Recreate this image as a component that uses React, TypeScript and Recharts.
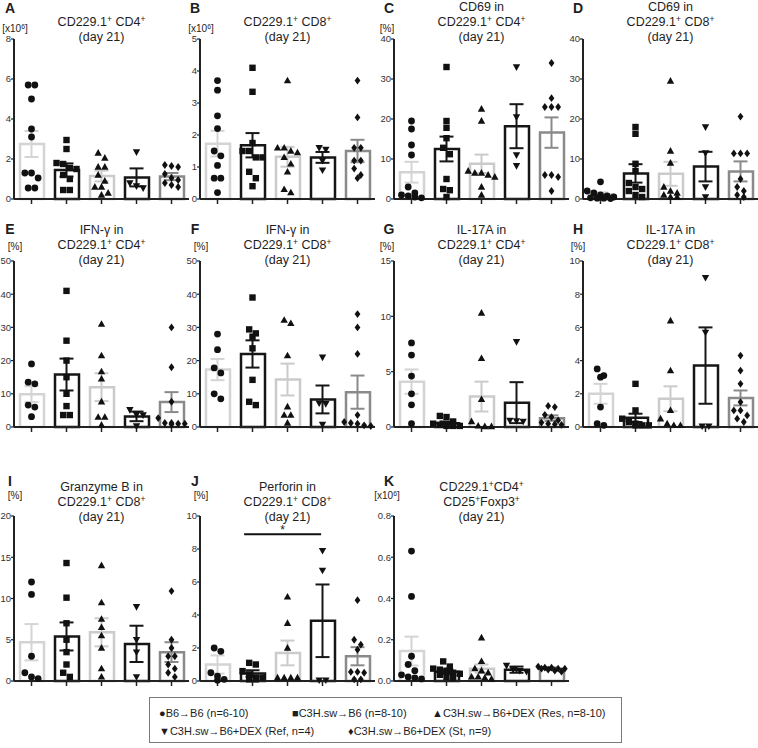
import React from 'react';
import { ComposedChart, Bar, Cell, Scatter, ErrorBar, XAxis, YAxis, ReferenceLine } from 'recharts';

// ---------- groups ----------
const GROUP_LABELS = [
  'B6→B6 (n=6-10)',
  'C3H.sw→B6 (n=8-10)',
  'C3H.sw→B6+DEX (Res, n=8-10)',
  'C3H.sw→B6+DEX (Ref, n=4)',
  'C3H.sw→B6+DEX (St, n=9)',
];
const GROUP_KEYS = ['g1', 'g2', 'g3', 'g4', 'g5'];
const GROUP_SYMBOLS = ['●', '■', '▲', '▼', '♦'];
const GROUP_COLORS = ['#d4d4d4', '#161616', '#cbcbcb', '#161616', '#8a8a8a'];

// ---------- A: CD229.1+ CD4+ ----------
const aTicks = [0, 2, 4, 6, 8];
const aMean = [2.75, 1.45, 1.15, 1.08, 1.12];
const aSem = [0.65, 0.33, 0.27, 0.45, 0.18];
const aPts = [
  [5.7, 5.7, 5.0, 3.5, 3.1, 1.3, 1.3, 1.05, 0.55, 0.55],
  [2.95, 2.5, 1.8, 1.75, 1.55, 1.5, 1.2, 1.0, 0.45, 0.45],
  [2.3, 2.05, 1.6, 1.6, 1.2, 0.9, 0.6, 0.6, 0.3, 0.2],
  [2.35, 0.8, 0.65, 0.55],
  [1.7, 1.65, 1.6, 1.25, 1.05, 0.95, 0.8, 0.7, 0.6],
];

// ---------- B: CD229.1+ CD8+ ----------
const bTicks = [0, 1, 2, 3, 4, 5];
const bMean = [1.73, 1.68, 1.32, 1.3, 1.5];
const bSem = [0.4, 0.38, 0.31, 0.17, 0.35];
const bPts = [
  [3.7, 3.4, 2.6, 2.2, 1.5, 1.35, 1.05, 0.65, 0.65, 0.2],
  [4.1, 3.35, 1.75, 1.5, 1.5, 1.3, 1.3, 0.85, 0.65, 0.4],
  [3.7, 1.6, 1.6, 1.5, 1.45, 1.3, 1.1, 0.85, 0.3, 0.2],
  [1.6, 1.55, 1.2, 0.9],
  [3.7, 2.55, 1.6, 1.6, 1.2, 1.2, 0.95, 0.75, 0.65],
];

// ---------- C: CD69 in CD229.1+ CD4+ ----------
const cTicks = [0, 10, 20, 30, 40];
const cMean = [6.7, 12.5, 8.8, 18.2, 16.6];
const cSem = [2.6, 3.1, 2.3, 5.5, 3.8];
const cPts = [
  [19.5, 17.5, 13.5, 11, 3, 1.5, 1, 0.8, 0.5, 0.3],
  [33, 19.5, 17.8, 15.2, 12.8, 11.2, 5, 2.5, 2.2, 0.5],
  [22.5, 19.5, 7, 6.5, 6.5, 6, 5.5, 3, 1],
  [33, 20.5, 11, 8.3],
  [34, 25.2, 23, 23, 23, 6, 6, 5.5, 2],
];

// ---------- D: CD69 in CD229.1+ CD8+ ----------
const dTicks = [0, 10, 20, 30, 40];
const dMean = [1.2, 6.4, 6.3, 8.1, 6.9];
const dSem = [0.45, 2.3, 3.0, 3.7, 2.5];
const dPts = [
  [4.3, 2, 1.5, 1, 0.8, 0.5, 0.3, 0.2, 0.2, 0.1],
  [18, 16.3, 8.8, 7, 4, 3, 2.5, 2, 1, 0.5],
  [29.5, 12, 9, 3, 2, 1.5, 1, 0.5, 0.5],
  [18, 11.5, 3, 0.5],
  [20.6, 11.4, 11.4, 11.4, 5, 3, 2, 1, 0.5],
];

// ---------- E: IFN-γ in CD229.1+ CD4+ ----------
const eTicks = [0, 10, 20, 30, 40, 50];
const eMean = [9.9, 15.8, 12.0, 3.2, 7.5];
const eSem = [2.4, 4.8, 4.2, 1.45, 3.0];
const ePts = [
  [19, 13.5, 13, 6.6, 6.0, 3.1],
  [41, 26, 20, 15, 10, 6.3, 3.6, 3.6],
  [31, 21.5, 16.7, 14.5, 7.6, 3, 3, 0.6],
  [5.2, 3.7, 3.6, 0.3],
  [30, 18, 7.6, 2.7, 1.2, 1.2, 1.0, 1.0, 0.8],
];

// ---------- F: IFN-γ in CD229.1+ CD8+ ----------
const fTicks = [0, 10, 20, 30, 40, 50];
const fMean = [17.3, 22.0, 14.3, 8.3, 10.5];
const fSem = [3.2, 4.1, 4.8, 4.2, 5.0];
const fPts = [
  [28, 23.3, 17.8, 16.3, 10, 8.5],
  [39, 29.4, 28.2, 27.2, 23.7, 14.2, 7.6, 6.6],
  [32.2, 31.2, 21.5, 6.1, 3.6, 3.6, 1.2],
  [21, 7.2, 7.0, 0.8],
  [34, 30, 22, 3.6, 1.5, 1.2, 1.0, 0.5, 0.3],
];

// ---------- G: IL-17A in CD229.1+ CD4+ ----------
const gTicks = [0, 5, 10, 15];
const gMean = [4.1, 0.35, 2.75, 2.2, 0.8];
const gSem = [1.1, 0.15, 1.35, 1.85, 0.25];
const gPts = [
  [7.6, 6.5, 4.6, 3, 2, 0.3],
  [1.0, 0.9, 0.5, 0.3, 0.2, 0.1, 0.1, 0.1],
  [10.3, 6.2, 2.5, 0.5, 0.1, 0.05, 0.05],
  [7.7, 0.6, 0.55, 0.5],
  [1.9, 1.8, 1.1, 0.9, 0.6, 0.4, 0.3, 0.25, 0.2],
];

// ---------- H: IL-17A in CD229.1+ CD8+ ----------
const hTicks = [0, 2, 4, 6, 8, 10];
const hMean = [2.0, 0.55, 1.7, 3.7, 1.75];
const hSem = [0.6, 0.25, 0.75, 2.3, 0.45];
const hPts = [
  [3.5, 3.1, 3.0, 1.2, 0.2, 0.1],
  [2.6, 1.0, 0.5, 0.3, 0.2, 0.1, 0.1, 0.1],
  [6.4, 3.4, 1, 0.5, 0.2, 0.1, 0.1],
  [9.0, 5.7, 0.05, 0.05],
  [4.3, 3.4, 2.6, 1.5, 1, 1, 0.7, 0.5, 0.3],
];

// ---------- I: Granzyme B in CD229.1+ CD8+ ----------
const iTicks = [0, 5, 10, 15, 20];
const iMean = [4.7, 5.4, 5.9, 4.5, 3.5];
const iSem = [2.2, 1.7, 1.7, 2.2, 1.2];
const iPts = [
  [12, 10.5, 3, 1, 0.5, 0.3],
  [14.3, 10.1, 7, 5, 3.5, 2, 1, 0.5],
  [14, 9.5, 7.5, 6.5, 5.5, 4, 1.5, 0.5],
  [9, 5, 3.5, 0.5],
  [10.9, 5, 4, 3, 3, 2, 1.5, 1, 0.5],
];

// ---------- J: Perforin in CD229.1+ CD8+ ----------
const jTicks = [0, 2, 4, 6, 8, 10];
const jMean = [1.0, 0.45, 1.7, 3.65, 1.5];
const jSem = [0.55, 0.2, 0.75, 2.2, 0.55];
const jPts = [
  [2.0, 1.8, 0.5, 0.3, 0.1, 0.05],
  [1.1, 1.0, 0.6, 0.4, 0.2, 0.2, 0.1, 0.1],
  [5.1, 3.5, 2.0, 0.2, 0.2, 0.2, 0.2],
  [7.9, 6.7, 0.05, 0.05],
  [4.9, 2.5, 2.2, 1.9, 0.55, 0.55, 0.5, 0.1, 0.1],
];
const jSig = { from: 1.26, to: 3.46, y: 8.9, label: '*' };

// ---------- K: CD229.1+CD4+ CD25+Foxp3+ ----------
const kTicks = [0, 0.2, 0.4, 0.6, 0.8];
const kMean = [0.145, 0.045, 0.06, 0.055, 0.06];
const kSem = [0.07, 0.01, 0.02, 0.015, 0.006];
const kPts = [
  [0.63, 0.41, 0.12, 0.08, 0.05, 0.03, 0.02, 0.015, 0.01],
  [0.095, 0.07, 0.06, 0.055, 0.05, 0.04, 0.035, 0.03, 0.02, 0.015],
  [0.21, 0.095, 0.06, 0.05, 0.04, 0.02, 0.02, 0.015, 0.01],
  [0.075, 0.055, 0.05, 0.045],
  [0.07, 0.065, 0.065, 0.06, 0.06, 0.06, 0.055, 0.05, 0.045],
];

// ---------- layout ----------
const COL_X = [14, 200, 394, 583];
const ROW_TOP = [39, 261, 516];
const ROW_H = [160, 166, 165];
const PLOT_W = 175;
const TITLE_LAST_Y = [37, 259.5, 517];
const LETTER_Y = [7.5, 228.5, 481];
const LETTER_X = [10, 195, 389, 578];
const UNIT_Y = [28.5, 247, 496];
const UNIT_X = [15, 201, 387, 578];
const FONT = "'Liberation Sans', Arial, Helvetica, sans-serif";

type PanelDef = {
  letter: string;
  col: number;
  row: number;
  title: string[];
  unit?: string;
  ticks: number[];
  mean: number[];
  sem: number[];
  pts: number[][];
  fmt?: (v: number) => string;
  sig?: { from: number; to: number; y: number; label: string };
};

const panels: PanelDef[] = [
  { letter: 'A', col: 0, row: 0, title: ['CD229.1^+ CD4^+', '(day 21)'], unit: '[x10^6]', ticks: aTicks, mean: aMean, sem: aSem, pts: aPts },
  { letter: 'B', col: 1, row: 0, title: ['CD229.1^+ CD8^+', '(day 21)'], unit: '[x10^6]', ticks: bTicks, mean: bMean, sem: bSem, pts: bPts },
  { letter: 'C', col: 2, row: 0, title: ['CD69 in', 'CD229.1^+ CD4^+', '(day 21)'], unit: '[%]', ticks: cTicks, mean: cMean, sem: cSem, pts: cPts },
  { letter: 'D', col: 3, row: 0, title: ['CD69 in', 'CD229.1^+ CD8^+', '(day 21)'], ticks: dTicks, mean: dMean, sem: dSem, pts: dPts },
  { letter: 'E', col: 0, row: 1, title: ['IFN-γ in', 'CD229.1^+ CD4^+', '(day 21)'], unit: '[%]', ticks: eTicks, mean: eMean, sem: eSem, pts: ePts },
  { letter: 'F', col: 1, row: 1, title: ['IFN-γ in', 'CD229.1^+ CD8^+', '(day 21)'], unit: '[%]', ticks: fTicks, mean: fMean, sem: fSem, pts: fPts },
  { letter: 'G', col: 2, row: 1, title: ['IL-17A in', 'CD229.1^+ CD4^+', '(day 21)'], unit: '[%]', ticks: gTicks, mean: gMean, sem: gSem, pts: gPts },
  { letter: 'H', col: 3, row: 1, title: ['IL-17A in', 'CD229.1^+ CD8^+', '(day 21)'], unit: '[%]', ticks: hTicks, mean: hMean, sem: hSem, pts: hPts },
  { letter: 'I', col: 0, row: 2, title: ['Granzyme B in', 'CD229.1^+ CD8^+', '(day 21)'], unit: '[%]', ticks: iTicks, mean: iMean, sem: iSem, pts: iPts },
  { letter: 'J', col: 1, row: 2, title: ['Perforin in', 'CD229.1^+ CD8^+', '(day 21)'], unit: '[%]', ticks: jTicks, mean: jMean, sem: jSem, pts: jPts, sig: jSig },
  { letter: 'K', col: 2, row: 2, title: ['CD229.1^+CD4^+', 'CD25^+Foxp3^+', '(day 21)'], unit: '[x10^6]', ticks: kTicks, mean: kMean, sem: kSem, pts: kPts, fmt: (v: number) => v.toFixed(1) },
];

// ---------- helpers ----------
function Rich({ text }: { text: string }) {
  const parts = text.split(/\^(\+|6)/);
  return (
    <>
      {parts.map((s, i) =>
        i % 2 === 1 ? (
          <span key={i} style={{ fontSize: '0.68em', verticalAlign: '0.5em', lineHeight: 0 }}>{s}</span>
        ) : (
          <React.Fragment key={i}>{s}</React.Fragment>
        )
      )}
    </>
  );
}

function Txt({ x, y, size, bold, anchor = 'middle', children }: any) {
  return (
    <div
      style={{
        position: 'absolute',
        left: x,
        top: y,
        transform: anchor === 'middle' ? 'translate(-50%, -50%)' : 'translate(0, -50%)',
        fontSize: size,
        fontWeight: bold ? 700 : 400,
        whiteSpace: 'nowrap',
        lineHeight: 1,
        color: '#1e1e1e',
      }}
    >
      {children}
    </div>
  );
}

// symmetric column-scatter layout: points of similar value spread sideways around the group centre
function swarm(values: number[], max: number, gi: number) {
  const thr = max * 0.042;
  const step = 0.19;
  const sorted = [...values].sort((a, b) => b - a);
  const out: { x: number; y: number; g: number }[] = [];
  let i = 0;
  while (i < sorted.length) {
    let j = i + 1;
    while (j < sorted.length && j - i < 5 && sorted[i] - sorted[j] < thr) j++;
    const n = j - i;
    for (let m = 0; m < n; m++) {
      out.push({ x: gi + 0.5 + (m - (n - 1) / 2) * step, y: sorted[i + m], g: gi });
    }
    i = j;
  }
  return out;
}

function Marker(props: any) {
  const { cx, cy, payload } = props;
  if (cx == null || cy == null) return <g />;
  const c = '#111';
  switch (payload.g) {
    case 0:
      return <circle cx={cx} cy={cy} r={3.4} fill={c} />;
    case 1:
      return <rect x={cx - 3.2} y={cy - 3.2} width={6.4} height={6.4} fill={c} />;
    case 2:
      return <path d={`M${cx},${cy - 3.9}L${cx + 3.7},${cy + 2.7}L${cx - 3.7},${cy + 2.7}Z`} fill={c} />;
    case 3:
      return <path d={`M${cx},${cy + 3.9}L${cx + 3.7},${cy - 2.7}L${cx - 3.7},${cy - 2.7}Z`} fill={c} />;
    default:
      return <path d={`M${cx},${cy - 3.9}L${cx + 2.9},${cy}L${cx},${cy + 3.9}L${cx - 2.9},${cy}Z`} fill={c} />;
  }
}

const Empty = () => <g />;

function Panel({ p }: { p: PanelDef }) {
  const axisX = COL_X[p.col];
  const top = ROW_TOP[p.row];
  const h = ROW_H[p.row];
  const max = p.ticks[p.ticks.length - 1];
  const data = p.mean.map((m, i) => ({ name: GROUP_KEYS[i], x: i + 0.5, mean: m, sem: p.sem[i] }));
  const pts = p.pts.flatMap((vals, gi) => swarm(vals, max, gi));
  const plotCenter = axisX + PLOT_W / 2;
  const n = p.title.length;
  return (
    <>
      <Txt x={LETTER_X[p.col]} y={LETTER_Y[p.row]} size={14} bold>
        {p.letter}
      </Txt>
      {p.unit && (
        <Txt x={UNIT_X[p.col]} y={UNIT_Y[p.row]} size={10}>
          <Rich text={p.unit} />
        </Txt>
      )}
      {p.title.map((line, i) => (
        <Txt key={i} x={plotCenter} y={TITLE_LAST_Y[p.row] - (n - 1 - i) * 15} size={12.5}>
          <Rich text={line} />
        </Txt>
      ))}
      <div style={{ position: 'absolute', left: axisX - 40, top: top - 10 }}>
        <ComposedChart
          width={40 + PLOT_W + 5}
          height={h + 22}
          data={data}
          margin={{ top: 10, right: 5, bottom: 0, left: 0 }}
          barCategoryGap={0}
        >
          <XAxis
            xAxisId="cat"
            dataKey="name"
            type="category"
            interval={0}
            tickFormatter={() => ''}
            axisLine={{ stroke: '#222', strokeWidth: 2 }}
            tickLine={{ stroke: '#222', strokeWidth: 1.5 }}
            tickSize={5}
            height={12}
          />
          <XAxis xAxisId="num" dataKey="x" type="number" domain={[0, 5]} hide />
          <YAxis
            type="number"
            domain={[0, max]}
            ticks={p.ticks}
            interval={0}
            width={40}
            axisLine={{ stroke: '#222', strokeWidth: 2 }}
            tickLine={{ stroke: '#222', strokeWidth: 1.2 }}
            tickSize={3}
            tickMargin={0}
            tick={{ fontSize: 9.5, fill: '#333', fontFamily: FONT }}
            tickFormatter={p.fmt ? p.fmt : (v: number) => String(v)}
          />
          <Bar xAxisId="cat" dataKey="mean" barSize={24} fill="#ffffff" strokeWidth={2.5} isAnimationActive={false}>
            {data.map((d, i) => (
              <Cell key={i} stroke={GROUP_COLORS[i]} fill="#ffffff" />
            ))}
          </Bar>
          <Scatter xAxisId="num" data={pts} dataKey="y" shape={Marker} isAnimationActive={false} />
          {data.map((d, i) => (
            <Scatter key={'err' + i} xAxisId="num" data={[d]} dataKey="mean" shape={Empty} isAnimationActive={false}>
              <ErrorBar dataKey="sem" direction="y" width={7} stroke={GROUP_COLORS[i]} strokeWidth={2} />
            </Scatter>
          ))}
          {p.sig && (
            <ReferenceLine
              xAxisId="num"
              segment={[
                { x: p.sig.from, y: p.sig.y },
                { x: p.sig.to, y: p.sig.y },
              ]}
              stroke="#111"
              strokeWidth={2}
              label={{ value: p.sig.label, position: 'top', offset: 0, fontSize: 12, fill: '#222' }}
            />
          )}
        </ComposedChart>
      </div>
    </>
  );
}

const LEGEND_ROWS = [
  { y: 713, items: [{ g: 0, x: 159 }, { g: 1, x: 292 }, { g: 2, x: 432 }] },
  { y: 731, items: [{ g: 3, x: 159 }, { g: 4, x: 348 }] },
];

function LegendBox() {
  return (
    <>
      <div
        style={{
          position: 'absolute',
          left: 149,
          top: 697,
          width: 473,
          height: 46,
          border: '1px solid #7a7a7a',
          boxSizing: 'border-box',
        }}
      />
      {LEGEND_ROWS.map((r, ri) =>
        r.items.map((it) => (
          <Txt key={ri + '-' + it.g} x={it.x} y={r.y} size={11} anchor="start">
            {GROUP_SYMBOLS[it.g]}
            {GROUP_LABELS[it.g]}
          </Txt>
        ))
      )}
    </>
  );
}

export default function App() {
  return (
    <div
      style={{
        position: 'absolute',
        left: 0,
        top: 0,
        width: 758,
        height: 748,
        background: '#ffffff',
        fontFamily: FONT,
        overflow: 'hidden',
      }}
    >
      {panels.map((p) => (
        <Panel key={p.letter} p={p} />
      ))}
      <LegendBox />
    </div>
  );
}
